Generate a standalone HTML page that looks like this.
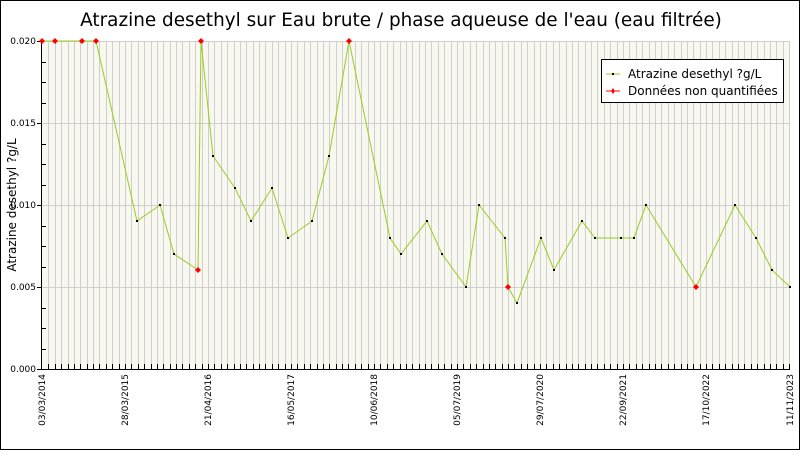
<!DOCTYPE html>
<html><head><meta charset="utf-8"><style>
body{margin:0;background:#fff}
svg{display:block;font-family:"DejaVu Sans","Liberation Sans",sans-serif}
</style></head><body>
<svg width="800" height="450" viewBox="0 0 800 450">
<rect x="0.5" y="0.5" width="799" height="449" fill="#fff" stroke="#000"/>
<text x="401" y="26" font-size="18.4" text-anchor="middle">Atrazine desethyl sur Eau brute / phase aqueuse de l'eau (eau filtrée)</text>
<rect x="42" y="41" width="748" height="328" fill="#f8f8f0"/>
<g id="vg" stroke="#cfcfcf" stroke-width="1"></g>
<g stroke="#cfcfcf">
<line x1="42" y1="41.5" x2="790" y2="41.5"/><line x1="42" y1="123.5" x2="790" y2="123.5"/>
<line x1="42" y1="205.5" x2="790" y2="205.5"/><line x1="42" y1="287.5" x2="790" y2="287.5"/>
</g>
<g id="tk" stroke="#000"></g>
<line x1="41.5" y1="41" x2="41.5" y2="369" stroke="#000"/>
<line x1="41" y1="369.5" x2="790" y2="369.5" stroke="#000"/>
<g font-size="9" text-anchor="end" fill="#000">
<text x="36" y="44">0.020</text><text x="36" y="126">0.015</text><text x="36" y="208">0.010</text><text x="36" y="290">0.005</text><text x="36" y="372">0.000</text>
</g>
<text transform="translate(16,205) rotate(-90)" font-size="12" text-anchor="middle">Atrazine desethyl ?g/L</text>
<g id="xl" font-size="9" text-anchor="end"></g>
<polyline fill="none" stroke="#99cc22" stroke-width="1" points="42,41 55,41 82,41 96,41 137,221 160,205 174,254 198,270 201,41 213,156 235,188 251,221 272,188 288,238 312,221 329,156 349,41 390,238 401,254 427,221 442,254 466,287 479,205 505,238 508,287 517,303 541,238 554,270 582,221 595,238 621,238 634,238 646,205 696,287 735,205 756,238 772,270 790,287"/>
<g id="pts"></g>
<rect x="601.5" y="59.5" width="182" height="43" fill="#fff" stroke="#000"/>
<line x1="606" y1="74" x2="620" y2="74" stroke="#99cc22"/><rect x="612" y="73" width="2" height="2" fill="#000"/>
<text x="628" y="78" font-size="12">Atrazine desethyl ?g/L</text>
<line x1="606" y1="91" x2="620" y2="91" stroke="#f00"/><path d="M613 88l2 3-2 3-2-3z" fill="#f00"/>
<text x="628" y="95" font-size="12">Données non quantifiées</text>
</svg>
<script>
var ns="http://www.w3.org/2000/svg",s=6.385;
function el(p,t,a){var e=document.createElementNS(ns,t);for(var k in a)e.setAttribute(k,a[k]);p.appendChild(e);return e;}
var vg=document.getElementById('vg'),tk=document.getElementById('tk');
for(var i=1;i*s<748;i++){var x=Math.round(42+i*s)+.5;el(vg,'line',{x1:x,y1:41,x2:x,y2:369});el(tk,'line',{x1:x,y1:364,x2:x,y2:369});}
for(var j=0;j<=16;j++){var y=Math.round(41+j*20.5)+.5;if(j%4)el(tk,'line',{x1:42,y1:y,x2:46,y2:y});else el(tk,'line',{x1:37,y1:y,x2:42,y2:y});}
var lb=["03/03/2014","28/03/2015","21/04/2016","16/05/2017","10/06/2018","05/07/2019","29/07/2020","22/09/2021","17/10/2022","11/11/2023"];
var xl=document.getElementById('xl');
lb.forEach(function(t,i){var x=i==9?790:42+i*83;var e=el(xl,'text',{transform:'translate('+(x+3)+',374) rotate(-90)'});e.textContent=t;});
var red=[[42,41],[55,41],[82,41],[96,41],[198,270],[201,41],[349,41],[508,287],[696,287]];
var blk=[[137,221],[160,205],[174,254],[213,156],[235,188],[251,221],[272,188],[288,238],[312,221],[329,156],[390,238],[401,254],[427,221],[442,254],[466,287],[479,205],[505,238],[517,303],[541,238],[554,270],[582,221],[595,238],[621,238],[634,238],[646,205],[735,205],[756,238],[772,270],[790,287]];
var p=document.getElementById('pts');
blk.forEach(function(q){el(p,'rect',{x:q[0]-1,y:q[1]-1,width:2,height:2,fill:'#000'});});
red.forEach(function(q){el(p,'path',{d:'M'+q[0]+' '+(q[1]-3)+'l3 3-3 3-3-3z',fill:'#f00'});});
</script>
</body></html>
